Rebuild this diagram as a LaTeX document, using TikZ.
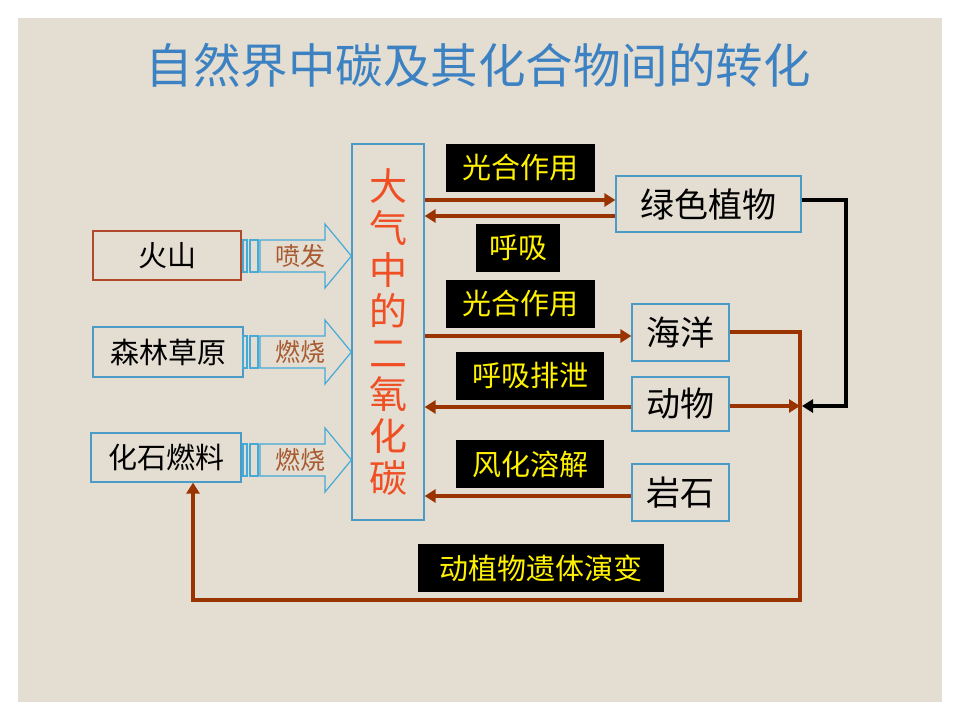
\documentclass[tikz,border=0pt]{standalone}
\usepackage{fontspec}
\setmainfont{Noto Sans CJK SC}
\usetikzlibrary{arrows.meta}
\definecolor{bg}{HTML}{E3DDD2}
\definecolor{titleblue}{HTML}{3C82C3}
\definecolor{boxblue}{HTML}{4A9BC8}
\definecolor{arrblue}{HTML}{46AAD7}
\definecolor{rust}{HTML}{993300}
\definecolor{volcred}{HTML}{B0482A}
\definecolor{co2red}{HTML}{F04E23}
\definecolor{lblbrown}{HTML}{A85A30}

\begin{document}
\begin{tikzpicture}[x=1pt,y=-1pt,
  box/.style={draw=boxblue, line width=1.2pt, inner sep=0pt, font=\fontsize{29}{30}\selectfont},
  tag/.style={fill=black, text=yellow, inner sep=0pt, minimum height=48pt,
    font=\fontsize{29}{30}\selectfont},
  flow/.style={draw=rust, line width=4pt, -{Triangle[length=11pt,width=13pt]}},
  barrow/.style={draw=arrblue, line width=1.2pt}]
  \useasboundingbox (0,0) rectangle (960,720);
  \fill[white] (0,0) rectangle (960,720);
  \fill[bg] (18,18) rectangle (942,702);
  \node[text=titleblue, font=\fontsize{47.5}{48}\selectfont] (Title) at (478,65) {自然界中碳及其化合物间的转化};
  % sources
  \node[box, draw=volcred, minimum width=148pt, minimum height=49pt] (Volc) at (167,255.5) {火山};
  \node[box, minimum width=150pt, minimum height=50pt] (Forest) at (168,352) {森林草原};
  \node[box, minimum width=150pt, minimum height=49pt] (Fuel) at (166,457.5) {化石燃料};
  \node[box, minimum width=72pt, minimum height=376pt, text=co2red, align=center,
    font=\fontsize{38}{41.6}\selectfont] (CO2) at (388,332) {大\\气\\中\\的\\二\\氧\\化\\碳};
  % sinks
  \node[box, minimum width=185pt, minimum height=56pt, font=\fontsize{34}{36}\selectfont] (Plant) at (708.5,204) {绿色植物};
  \node[box, minimum width=97pt, minimum height=57pt, font=\fontsize{34}{36}\selectfont] (Sea) at (680.5,332.5) {海洋};
  \node[box, minimum width=97pt, minimum height=54pt, font=\fontsize{34}{36}\selectfont] (Animal) at (680.5,404) {动物};
  \node[box, minimum width=97pt, minimum height=57pt, font=\fontsize{34}{36}\selectfont] (Rock) at (680.5,492.5) {岩石};
  % labels
  \node[tag, minimum width=149pt] (T1) at (520.5,168) {光合作用};
  \node[tag, minimum width=84pt] (T2) at (518,248) {呼吸};
  \node[tag, minimum width=149pt] (T3) at (520.5,304) {光合作用};
  \node[tag, minimum width=148pt] (T4) at (530,375.5) {呼吸排泄};
  \node[tag, minimum width=148pt] (T5) at (530,464) {风化溶解};
  \node[tag, minimum width=246pt] (T6) at (541,568) {动植物遗体演变};
  % block arrows
  \foreach \y/\t in {256/喷发, 352/燃烧, 460/燃烧} {
    \draw[barrow] (243,\y-16) rectangle (247,\y+16);
    \draw[barrow] (250,\y-16) rectangle (258,\y+16);
    \draw[barrow] (260,\y-16) -- (325,\y-16) -- (325,\y-32) -- (CO2.west |- 0,\y)
      -- (325,\y+32) -- (325,\y+16) -- (260,\y+16) -- cycle;
    \node[text=lblbrown, font=\fontsize{25}{26}\selectfont] (L\y) at (300,\y) {\t};
  }
  % flows
  \draw[flow] (CO2.east |- 0,200) -- (Plant.west |- 0,200);
  \draw[flow] (Plant.west |- 0,216) -- (CO2.east |- 0,216);
  \draw[flow] (CO2.east |- 0,336) -- (Sea.west |- 0,336);
  \draw[flow] (Animal.west |- 0,407) -- (CO2.east |- 0,407);
  \draw[flow] (Rock.west |- 0,496) -- (CO2.east |- 0,496);
  \coordinate (J) at (800,406);
  \draw[flow] (Animal.east |- J) -- (J);
  \draw[line width=4pt, -{Triangle[length=11pt,width=13pt]}]
    (Plant.east |- 0,200) -| (846,406) -- (802,406);
  \draw[flow] (Sea.east |- 0,332) -| (800,600) -| ([xshift=27pt]Fuel.south);
\end{tikzpicture}
\end{document}
